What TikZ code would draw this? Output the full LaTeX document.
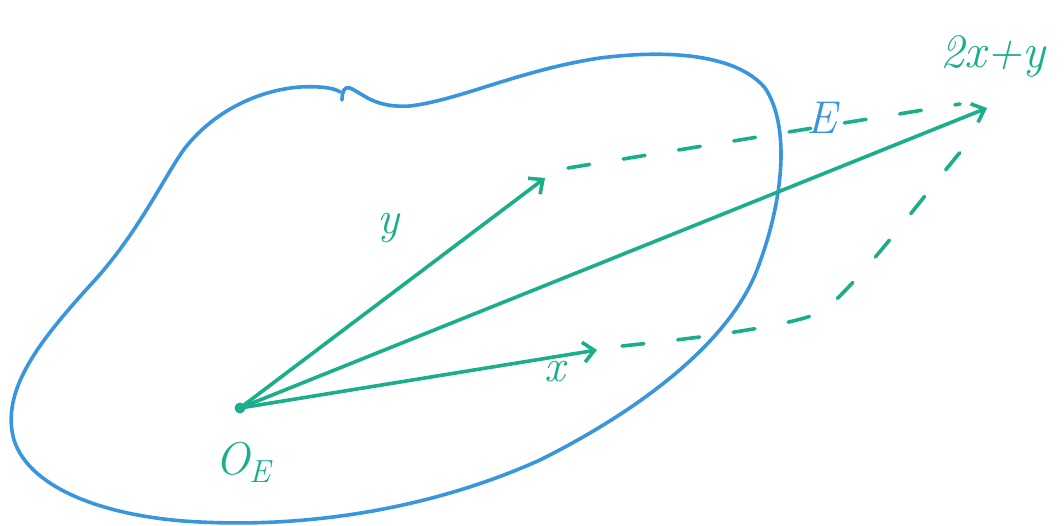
\documentclass[tikz,border=0pt]{standalone}
\usepackage{fontspec}
\usetikzlibrary{arrows.meta}
\definecolor{sblue}{RGB}{58,150,220}
\definecolor{sgreen}{RGB}{26,174,138}
\begin{document}
\begin{tikzpicture}[x=1pt,y=-1pt,
  blob/.style={draw=sblue,line width=3.6pt,line cap=round,line join=round},
  vec/.style={draw=sgreen,line width=3.6pt,line cap=round,-{Straight Barb[length=11pt,width=20pt,line width=3.6pt]}},
  guide/.style={draw=sgreen,line width=3.6pt,line cap=round,dash pattern=on 22pt off 34pt},
  lab/.style={text=sgreen,font=\fontsize{46}{46}\selectfont\itshape},
  blab/.style={text=sblue,font=\fontsize{46}{46}\selectfont\itshape}]
\useasboundingbox (0,0) rectangle (1064,526);
% blob
\draw[blob] (342,100) .. controls (342,92) and (344,86) .. (350,88)
  .. controls (365,95) and (375,108) .. (410,106)
  .. controls (460,100) and (520,70) .. (600,58)
  .. controls (680,48) and (740,58) .. (765,88)
  .. controls (790,125) and (785,200) .. (755,275)
  .. controls (725,345) and (640,410) .. (540,460)
  .. controls (440,505) and (320,528) .. (200,522)
  .. controls (110,518) and (30,490) .. (14,440)
  .. controls (0,390) and (40,340) .. (95,280)
  .. controls (140,230) and (165,175) .. (185,148)
  .. controls (215,110) and (260,90) .. (300,87)
  .. controls (320,86) and (335,88) .. (340,92);
% points
\coordinate (O) at (240,408);
\coordinate (Y) at (545,178);
\coordinate (X) at (597,350);
\coordinate (S) at (987,108);
\fill[sgreen] (O) circle (5.5pt);
\draw[vec] (O) -- (Y);
\draw[vec] (O) -- (X);
\draw[vec] (O) -- (S);
% guides
\draw[guide] (568,168) -- (960,104);
\draw[guide] (622,346) .. controls (700,338) and (800,325) .. (825,310)
  .. controls (870,270) and (920,200) .. (962,150);
% labels
\node[lab] (ly) at (388,228) {y};
\node[lab] (lx) at (555,372) {x};
\node[lab] (lo) at (243,462) {O\kern-1pt\raisebox{-8pt}{\fontsize{32}{32}\selectfont E}};
\node[blab] (le) at (822,118) {E};
\node[lab,font=\fontsize{48}{48}\selectfont\itshape] (ls) at (993,56) {2x+y};
\end{tikzpicture}
\end{document}
